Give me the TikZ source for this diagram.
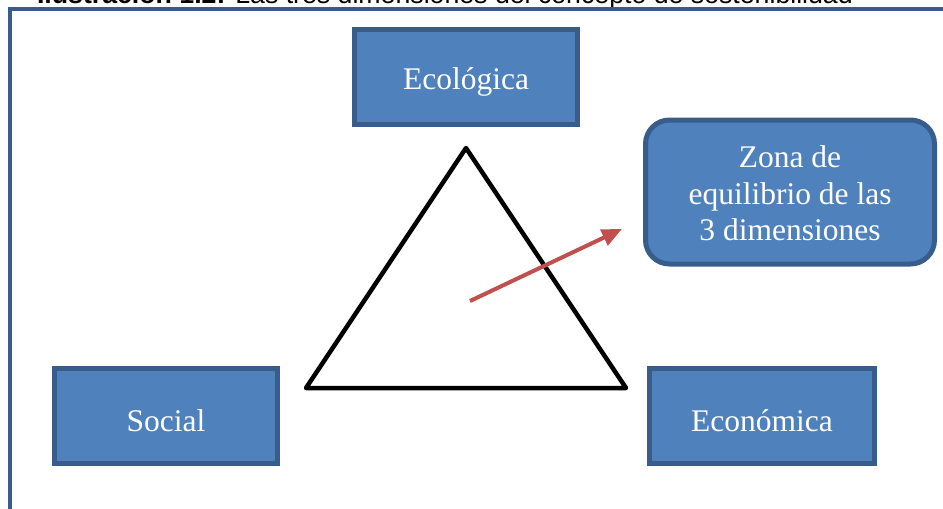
\documentclass[tikz,border=0pt]{standalone}
\usepackage{fontspec}
\setmainfont{Liberation Serif}
\newfontfamily\captionfont{Liberation Sans}
\usetikzlibrary{arrows.meta}

\definecolor{azulrelleno}{HTML}{4F81BD}
\definecolor{azulborde}{HTML}{385D8A}
\definecolor{rojoflecha}{HTML}{C0504D}

\newcommand{\bajar}[1]{\raisebox{-5pt}[\height][\depth]{#1}}

\tikzset{
  dimension/.style={draw=azulborde, line width=5pt, fill=azulrelleno, text=white,
    font=\fontsize{31.5}{36.5}\selectfont, minimum width=223pt, minimum height=95pt,
    inner sep=0pt},
  zona/.style={dimension, rounded corners=24pt, minimum width=289pt, minimum height=144pt}
}

\begin{document}
\begin{tikzpicture}[x=1pt,y=-1pt]

\useasboundingbox (0,0) rectangle (943,509);
\clip (0,0) rectangle (943,509);

\node[anchor=base east, inner sep=0pt, font=\captionfont\fontsize{26.7}{30}\selectfont] (titulo) at (853,3)
  {\textbf{Ilustración 1.2:} Las tres dimensiones del concepto de sostenibilidad};

\draw[azulborde, line width=4pt] (10,520) -- (10,9) -- (960,9);

\node[dimension] (ecologica) at (466,77) {\bajar{Ecológica}};
\node[dimension] (social) at (166,416) {\bajar{Social}};
\node[dimension, minimum width=225pt] (economica) at (762,416) {\bajar{Económica}};

\node[zona] (zona) at (790,192)
  {\bajar{\begin{tabular}{@{}c@{}}Zona de\\equilibrio de las\\3 dimensiones\end{tabular}}};

\coordinate (vertice) at (466,148);
\coordinate (izq) at (306,388);
\coordinate (der) at (626,388);
\draw[line width=4.5pt, line join=round] (vertice) -- (der) -- (izq) -- cycle;

\coordinate (centro) at (470,301);
\coordinate (punta) at (622,229);
\draw[rojoflecha, line width=4pt, -{Triangle[length=20pt,width=17pt]}] (centro) -- (punta);

\end{tikzpicture}
\end{document}
